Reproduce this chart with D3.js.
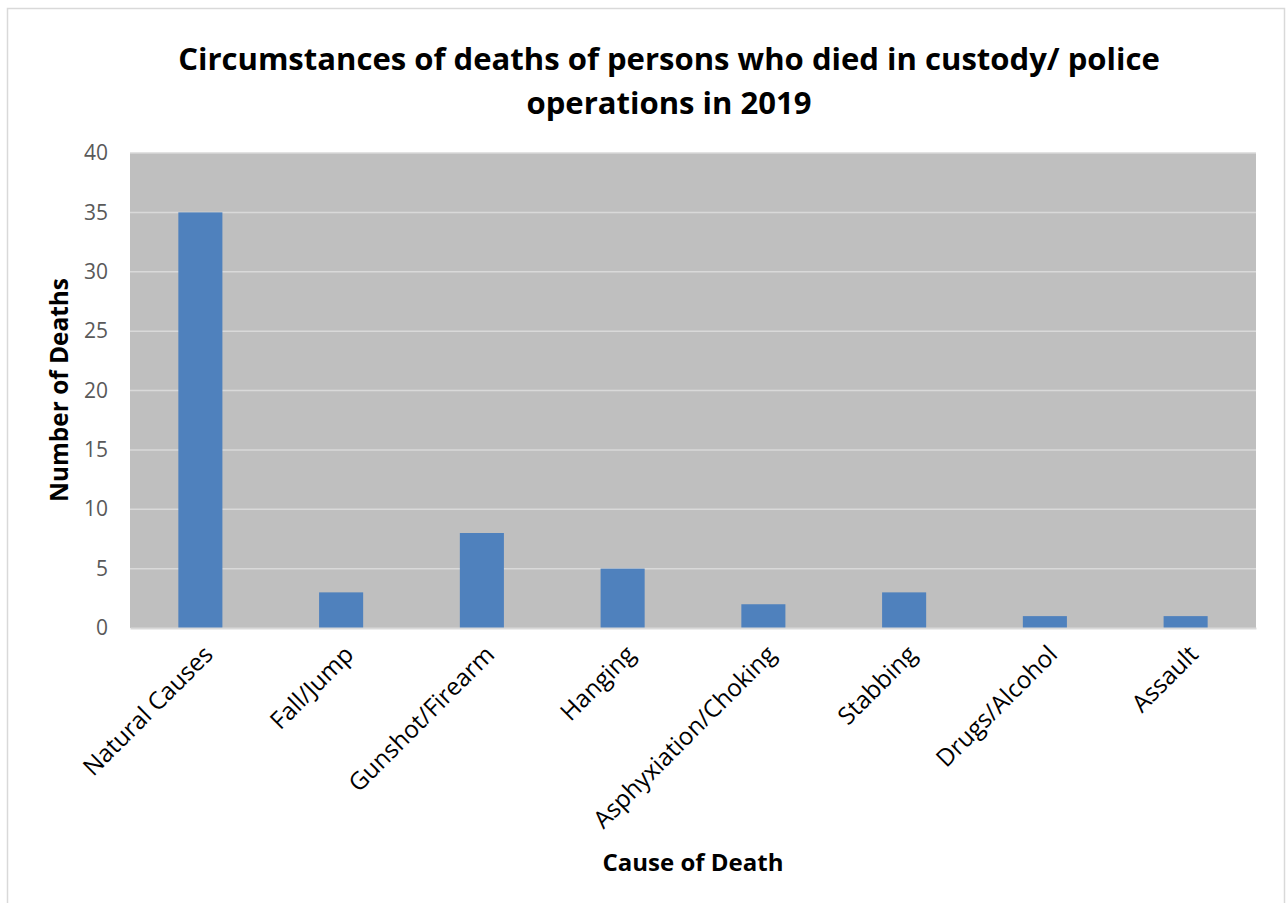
<!DOCTYPE html>
<html>
<head>
<meta charset="utf-8">
<script src="https://cdn.jsdelivr.net/npm/d3@7"></script>
<style>
  body { margin: 0; background: #fff; }
  text { font-family: "Open Sans", sans-serif; }
</style>
</head>
<body>
<div class="chart"></div>
<script>
// data
var causes = ["Natural Causes", "Fall/Jump", "Gunshot/Firearm", "Hanging",
              "Asphyxiation/Choking", "Stabbing", "Drugs/Alcohol", "Assault"]
var deaths = [35, 3, 8, 5, 2, 3, 1, 1]
var yTicks = [0, 5, 10, 15, 20, 25, 30, 35, 40]
var titleLines = ["Circumstances of deaths of persons who died in custody/ police",
                  "operations in 2019"]

var W = 1287, H = 903
var margin = {top: 153, right: 31, bottom: 275, left: 130},
    width = W - margin.left - margin.right,
    height = H - margin.top - margin.bottom

var root = d3.select(".chart")
  .append("svg")
    .attr("width", W)
    .attr("height", H)

// chart frame
root.append("rect")
    .attr("x", 7.5).attr("y", 8.5)
    .attr("width", 1277).attr("height", 910)
    .attr("fill", "#fff")
    .attr("stroke", "#d9d9d9")
    .attr("stroke-width", 1.5)

// scale text to a target width
function fit(sel, target) {
  var size = parseFloat(sel.attr("font-size"))
  var len = sel.node().getComputedTextLength()
  sel.attr("font-size", size * target / len)
}

var svg = root.append("g")
    .attr("transform", "translate(" + margin.left + "," + margin.top + ")")

var x = d3.scaleBand()
    .domain(causes)
    .range([0, width])
    .paddingInner(0.687)
    .paddingOuter(0.687 / 2)

var y = d3.scaleLinear()
    .domain([0, 40])
    .range([height, 0])

svg.append("rect")
    .attr("width", width)
    .attr("height", height)
    .attr("fill", "#bfbfbf")

// gridlines
svg.selectAll(".grid")
  .data(yTicks.filter(function(d) { return d > 0 }))
  .enter()
  .append("line")
    .attr("x1", 0).attr("x2", width)
    .attr("y1", function(d) { return y(d) })
    .attr("y2", function(d) { return y(d) })
    .attr("stroke", "#d9d9d9")
    .attr("stroke-width", 1.5)

svg.selectAll(".bar")
  .data(deaths)
  .enter()
  .append("rect")
    .attr("x", function(d, i) { return x(causes[i]) })
    .attr("y", function(d) { return y(d) })
    .attr("width", x.bandwidth())
    .attr("height", function(d) { return y(0) - y(d) })
    .attr("fill", "#4f81bd")

// y axis
var yAxis = svg.append("g")
    .call(d3.axisLeft(y).tickValues(yTicks).tickSize(0).tickPadding(22))
yAxis.select(".domain").remove()
yAxis.selectAll("text")
    .attr("font-size", 21)
    .attr("fill", "#595959")
    .style("font-family", "'Open Sans', sans-serif")

// x axis
var xAxis = svg.append("g")
    .attr("transform", "translate(0," + height + ")")
    .call(d3.axisBottom(x).tickSize(0).tickFormat(""))
xAxis.select(".domain")
    .attr("stroke", "#d9d9d9")
    .attr("stroke-width", 2)

var labels = svg.selectAll(".xlab")
  .data(causes)
  .enter()
  .append("text")
    .attr("font-size", 18)
    .attr("fill", "#000")
    .attr("text-anchor", "end")
    .attr("transform", function(d) {
      return "translate(" + (x(d) + x.bandwidth() / 2 + 14) + "," + (height + 28) + ") rotate(-45)"
    })
    .text(function(d) { return d })
var probe = labels.filter(function(d) { return d == "Asphyxiation/Choking" })
fit(probe, 246)
labels.attr("font-size", probe.attr("font-size"))

// title
var t1 = root.append("text")
    .attr("x", 669).attr("y", 70)
    .attr("text-anchor", "middle")
    .attr("font-weight", "bold")
    .attr("font-size", 30)
    .text(titleLines[0])
fit(t1, 982)
root.append("text")
    .attr("x", 669).attr("y", 114)
    .attr("text-anchor", "middle")
    .attr("font-weight", "bold")
    .attr("font-size", t1.attr("font-size"))
    .text(titleLines[1])

// axis titles
var xt = root.append("text")
    .attr("x", 693).attr("y", 871)
    .attr("text-anchor", "middle")
    .attr("font-weight", "bold")
    .attr("font-size", 22)
    .text("Cause of Death")
fit(xt, 181)

var yt = root.append("text")
    .attr("transform", "translate(68,390) rotate(-90)")
    .attr("text-anchor", "middle")
    .attr("font-weight", "bold")
    .attr("font-size", 22)
    .text("Number of Deaths")
fit(yt, 224)
</script>
</body>
</html>
